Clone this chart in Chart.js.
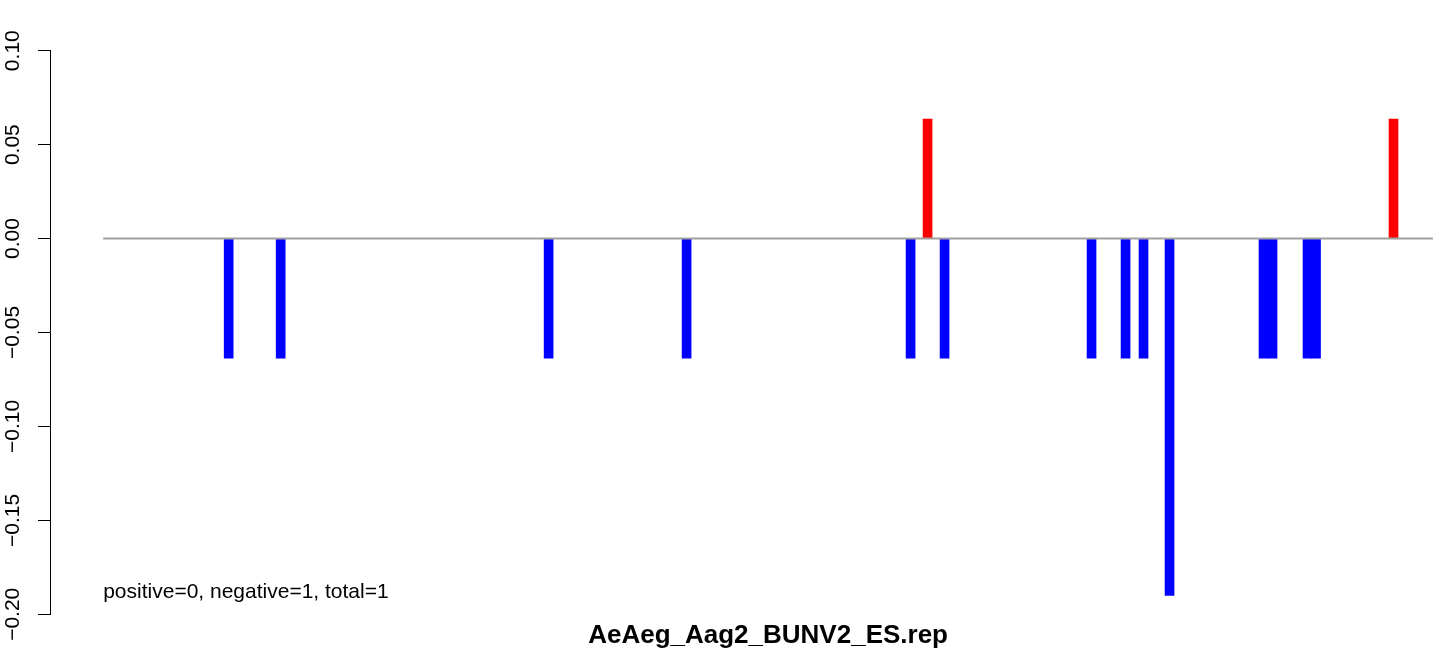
<!DOCTYPE html>
<html>
<head>
<meta charset="utf-8">
<script src="https://cdn.jsdelivr.net/npm/chart.js@4.4.0/dist/chart.umd.min.js"></script>
<style>
  html, body { margin: 0; padding: 0; background: #ffffff; overflow: hidden; }
  #wrap { width: 1444px; height: 656px; }
</style>
</head>
<body>
<div id="wrap"><canvas id="c" width="1444" height="656"></canvas></div>
<script>
// ---- data ----
const chartTitle = "AeAeg_Aag2_BUNV2_ES.rep";
const noteText = "positive=0, negative=1, total=1";
// positions along the sequence (arbitrary units), baseline spans 0..133
const positions = [12.55, 17.75, 44.55, 58.35, 80.75, 82.45, 84.15, 98.85, 102.25, 104.05, 106.65, 116.05, 116.95, 120.45, 121.3, 129.05];
const values    = [-0.0636, -0.0636, -0.0636, -0.0636, -0.0636, 0.0636, -0.0636, -0.0636, -0.0636, -0.0636, -0.19, -0.0636, -0.0636, -0.0636, -0.0636, 0.0636];
const baselineRange = [0, 133];
const yTicks = [-0.2, -0.15, -0.1, -0.05, 0, 0.05, 0.1];

const barData = positions.map((p, i) => ({ x: p, y: values[i] }));
const barColors = values.map(v => v > 0 ? '#ff0000' : '#0000ff');

const span = baselineRange[1] - baselineRange[0];
const xMin = baselineRange[0] - 0.04 * span;       // R-style 4% extension
const xMaxR = baselineRange[1] + 0.04 * span;       // full R plot region right edge
const xMax = 134.1;                                 // visible part

const FONT = "'Liberation Sans', Arial, Helvetica, sans-serif";

const textPlugin = {
  id: 'rtext',
  afterDraw(chart) {
    const ctx = chart.ctx;
    const xs = chart.scales.x;
    ctx.save();
    ctx.fillStyle = '#000';
    ctx.font = "21px " + FONT;
    ctx.textAlign = 'left';
    ctx.textBaseline = 'alphabetic';
    ctx.fillText(noteText, xs.getPixelForValue(baselineRange[0]), 598);
    ctx.font = "bold 26px " + FONT;
    ctx.textAlign = 'center';
    ctx.fillText(chartTitle, xs.getPixelForValue((xMin + xMaxR) / 2), 643);
    ctx.restore();
  }
};

new Chart(document.getElementById('c'), {
  data: {
    datasets: [
      {
        type: 'line',
        data: [{ x: baselineRange[0], y: 0 }, { x: baselineRange[1], y: 0 }],
        borderColor: '#a0a0a0',
        borderWidth: 2,
        pointRadius: 0,
        order: 0
      },
      {
        type: 'bar',
        data: barData,
        backgroundColor: barColors,
        borderWidth: 0,
        barThickness: 9,
        grouped: false,
        order: 1
      }
    ]
  },
  options: {
    responsive: false,
    animation: false,
    devicePixelRatio: 1,
    layout: { padding: { top: 50.7, bottom: 41.7, left: 0, right: 0 } },
    plugins: { legend: { display: false }, tooltip: { enabled: false }, title: { display: false } },
    scales: {
      x: {
        type: 'linear',
        display: false,
        offset: false,
        min: xMin,
        max: xMax
      },
      y: {
        type: 'linear',
        position: 'left',
        min: -0.2,
        max: 0.1,
        afterBuildTicks(scale) { scale.ticks = yTicks.map(v => ({ value: v })); },
        afterFit(scale) { scale.width = 50; },
        border: { display: true, color: '#000', width: 1 },
        grid: { drawOnChartArea: false, drawTicks: true, tickLength: 12, color: '#000', lineWidth: 1 },
        ticks: {
          color: '#000',
          font: { family: FONT, size: 21 },
          minRotation: 90,
          maxRotation: 90,
          crossAlign: 'center',
          padding: -2,
          autoSkip: false,
          callback: v => v.toFixed(2).replace('-', '\u2212')
        }
      }
    }
  },
  plugins: [textPlugin]
});
</script>
</body>
</html>
